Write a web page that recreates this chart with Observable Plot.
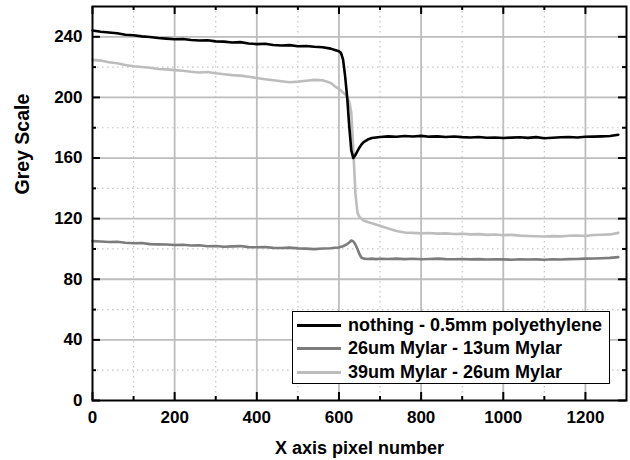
<!DOCTYPE html>
<html><head><meta charset="utf-8">
<script src="https://cdn.jsdelivr.net/npm/d3@7"></script>
<script src="https://cdn.jsdelivr.net/npm/@observablehq/plot@0.6"></script>
<style>
body{margin:0;background:#fff;}
#wrap{position:relative;width:630px;height:460px;font-family:"Liberation Sans",Arial,sans-serif;font-weight:bold;}
#legend{position:absolute;left:292px;top:311px;width:316px;height:71px;border:1px solid #000;background:#fff;}
.row{position:absolute;left:0;width:316px;height:20px;}
.swatch{position:absolute;left:4px;top:8.5px;width:44px;height:3px;}
.lab{position:absolute;left:55px;top:0;font-size:18px;line-height:20px;white-space:nowrap;color:#000;}
</style></head><body><div id="wrap"></div>
<script>
// ---- data ----
const seriesNames = ["nothing - 0.5mm polyethylene", "26um Mylar - 13um Mylar", "39um Mylar - 26um Mylar"];
const seriesColors = ["#000000", "#7c7c7c", "#bdbdbd"];

const xPixel = [
  0,20,40,60,80,100,120,140,160,180,200,220,240,260,280,300,320,340,360,380,400,420,440,460,480,500,520,540,560,580,
  590,600,605,610,615,620,625,630,635,640,645,650,655,660,670,680,690,700,
  720,740,760,780,800,820,840,860,880,900,920,940,960,980,1000,1020,1040,1060,1080,1100,1120,1140,1160,1180,1200,1220,1240,1260,1280
];
const nothingPE = [
  244.2,243.3,242.8,242.3,241.4,241.0,240.3,239.9,239.2,238.8,238.4,238.6,237.9,237.6,237.7,237.0,236.8,236.2,236.5,235.6,235.2,235.4,234.6,234.3,234.5,233.8,233.9,233.4,233.1,232.2,
  231.3,230.4,229.4,225.0,214.0,200.0,181.0,165.0,160.0,162.0,164.5,167.0,169.0,170.5,172.2,173.2,173.6,173.9,
  174.3,174.0,174.5,174.2,174.6,174.1,174.3,173.9,174.2,173.8,173.6,173.9,173.4,173.6,173.2,173.5,173.7,173.3,173.8,173.1,173.4,173.7,173.9,173.6,174.0,174.1,174.3,174.5,175.4
];
const mylar26 = [
  105.2,104.9,104.6,104.8,104.1,103.8,103.9,103.2,103.0,102.9,102.6,102.8,102.3,102.4,101.8,102.0,101.5,101.7,101.9,101.2,101.1,101.3,100.7,100.6,100.9,100.4,100.2,99.9,100.3,100.5,
  100.8,101.0,101.4,101.8,102.5,103.2,104.3,105.6,105.0,103.0,100.0,96.5,94.2,93.6,93.4,93.6,93.3,93.5,
  93.4,93.6,93.3,93.5,93.2,93.4,93.6,93.3,93.2,93.4,93.1,93.3,93.0,93.2,93.1,92.9,93.2,93.0,93.1,92.9,93.2,93.0,93.3,93.4,93.6,93.7,93.9,94.1,94.6
];
const mylar39 = [
  224.8,224.3,223.2,222.6,221.4,220.6,220.1,219.6,218.8,218.5,218.0,217.6,216.9,216.4,216.8,216.0,215.3,214.7,214.4,213.6,212.8,212.0,211.3,210.7,210.0,210.4,211.0,211.6,211.3,209.5,
  207.3,205.7,204.5,203.2,202.0,200.5,197.5,190.0,165.0,137.0,124.0,121.0,120.0,118.8,117.8,117.0,116.2,115.3,
  113.5,111.8,110.9,110.6,110.3,110.5,110.1,110.3,109.9,110.0,109.6,109.8,109.3,109.5,109.1,109.3,108.8,108.6,108.4,108.2,108.5,108.3,108.7,108.9,108.6,109.2,109.4,109.6,110.6
];

const xMajorTicks = [0,200,400,600,800,1000,1200];
const xMinorTicks = [100,300,500,700,900,1100];
const yMajorTicks = [0,40,80,120,160,200,240];
const yMinorTicks = [20,60,100,140,180,220];

const xTitle = "X axis pixel number";
const yTitle = "Grey Scale";

// ---- build table ----
const valueSets = [nothingPE, mylar26, mylar39];
const rows = [];
valueSets.forEach((vals, s) => {
  vals.forEach((v, i) => rows.push({series: seriesNames[s], x: xPixel[i], y: v}));
});
// draw order: light grey, dark grey, black on top
const drawOrder = [seriesNames[2], seriesNames[1], seriesNames[0]];

const W = 630, H = 460, mt = 6, mr = 4, mb = 60, ml = 92;
const ph = H - mt - mb, pw = W - ml - mr;
const majLen = 8, minLen = 4;

const chart = Plot.plot({
  width: W, height: H,
  marginTop: mt, marginRight: mr, marginBottom: mb, marginLeft: ml,
  style: {fontFamily: '"Liberation Sans", Arial, sans-serif', fontSize: "17px", fontWeight: "bold", color: "#000", background: "#fff"},
  x: {domain: [0, 1300], label: null},
  y: {domain: [0, 260], label: null},
  color: {domain: seriesNames, range: seriesColors},
  marks: [
    Plot.ruleX(xMinorTicks, {stroke: "#c4c4c4", strokeWidth: 1.2, strokeDasharray: "1.5,3.5"}),
    Plot.ruleY(yMinorTicks, {stroke: "#c4c4c4", strokeWidth: 1.2, strokeDasharray: "1.5,3.5"}),
    Plot.ruleX(xMajorTicks.slice(1), {stroke: "#bdbdbd", strokeWidth: 1.8}),
    Plot.ruleY(yMajorTicks.slice(1), {stroke: "#bdbdbd", strokeWidth: 1.8}),
    ...drawOrder.map(name => Plot.line(rows.filter(d => d.series === name), {x: "x", y: "y", stroke: "series", strokeWidth: 2.6, strokeLinejoin: "round"})),
    // inward ticks on all four sides
    Plot.ruleX(xMajorTicks, {insetTop: ph - majLen, stroke: "#000", strokeWidth: 2}),
    Plot.ruleX(xMajorTicks, {insetBottom: ph - majLen, stroke: "#000", strokeWidth: 2}),
    Plot.ruleX(xMinorTicks, {insetTop: ph - minLen, stroke: "#000", strokeWidth: 2}),
    Plot.ruleX(xMinorTicks, {insetBottom: ph - minLen, stroke: "#000", strokeWidth: 2}),
    Plot.ruleY(yMajorTicks, {insetRight: pw - majLen, stroke: "#000", strokeWidth: 2}),
    Plot.ruleY(yMajorTicks, {insetLeft: pw - majLen, stroke: "#000", strokeWidth: 2}),
    Plot.ruleY(yMinorTicks, {insetRight: pw - minLen, stroke: "#000", strokeWidth: 2}),
    Plot.ruleY(yMinorTicks, {insetLeft: pw - minLen, stroke: "#000", strokeWidth: 2}),
    Plot.frame({stroke: "#000", strokeWidth: 2}),
    Plot.axisX(xMajorTicks, {tickSize: 0, tickPadding: 10, fontSize: 17, fontWeight: "bold", label: null, tickFormat: d => String(d)}),
    Plot.axisY(yMajorTicks, {tickSize: 0, tickPadding: 10, fontSize: 17, fontWeight: "bold", label: null, tickFormat: d => String(d)}),
    Plot.text([xTitle], {text: d => d, frameAnchor: "bottom", lineAnchor: "bottom", dy: 53, fontSize: 18, fontWeight: "bold"}),
    Plot.text([yTitle], {text: d => d, frameAnchor: "left", lineAnchor: "bottom", rotate: -90, dx: -64, dy: -9, fontSize: 19.5, fontWeight: "bold"})
  ]
});

const wrap = document.getElementById("wrap");
wrap.appendChild(chart);

// legend
const legend = document.createElement("div");
legend.id = "legend";
const rowTops = [3, 26, 50];
seriesNames.forEach((name, i) => {
  const r = document.createElement("div");
  r.className = "row";
  r.style.top = rowTops[i] + "px";
  const sw = document.createElement("div");
  sw.className = "swatch";
  sw.style.background = seriesColors[i];
  const lb = document.createElement("div");
  lb.className = "lab";
  lb.textContent = name;
  r.appendChild(sw); r.appendChild(lb);
  legend.appendChild(r);
});
wrap.appendChild(legend);
</script>
</body></html>
